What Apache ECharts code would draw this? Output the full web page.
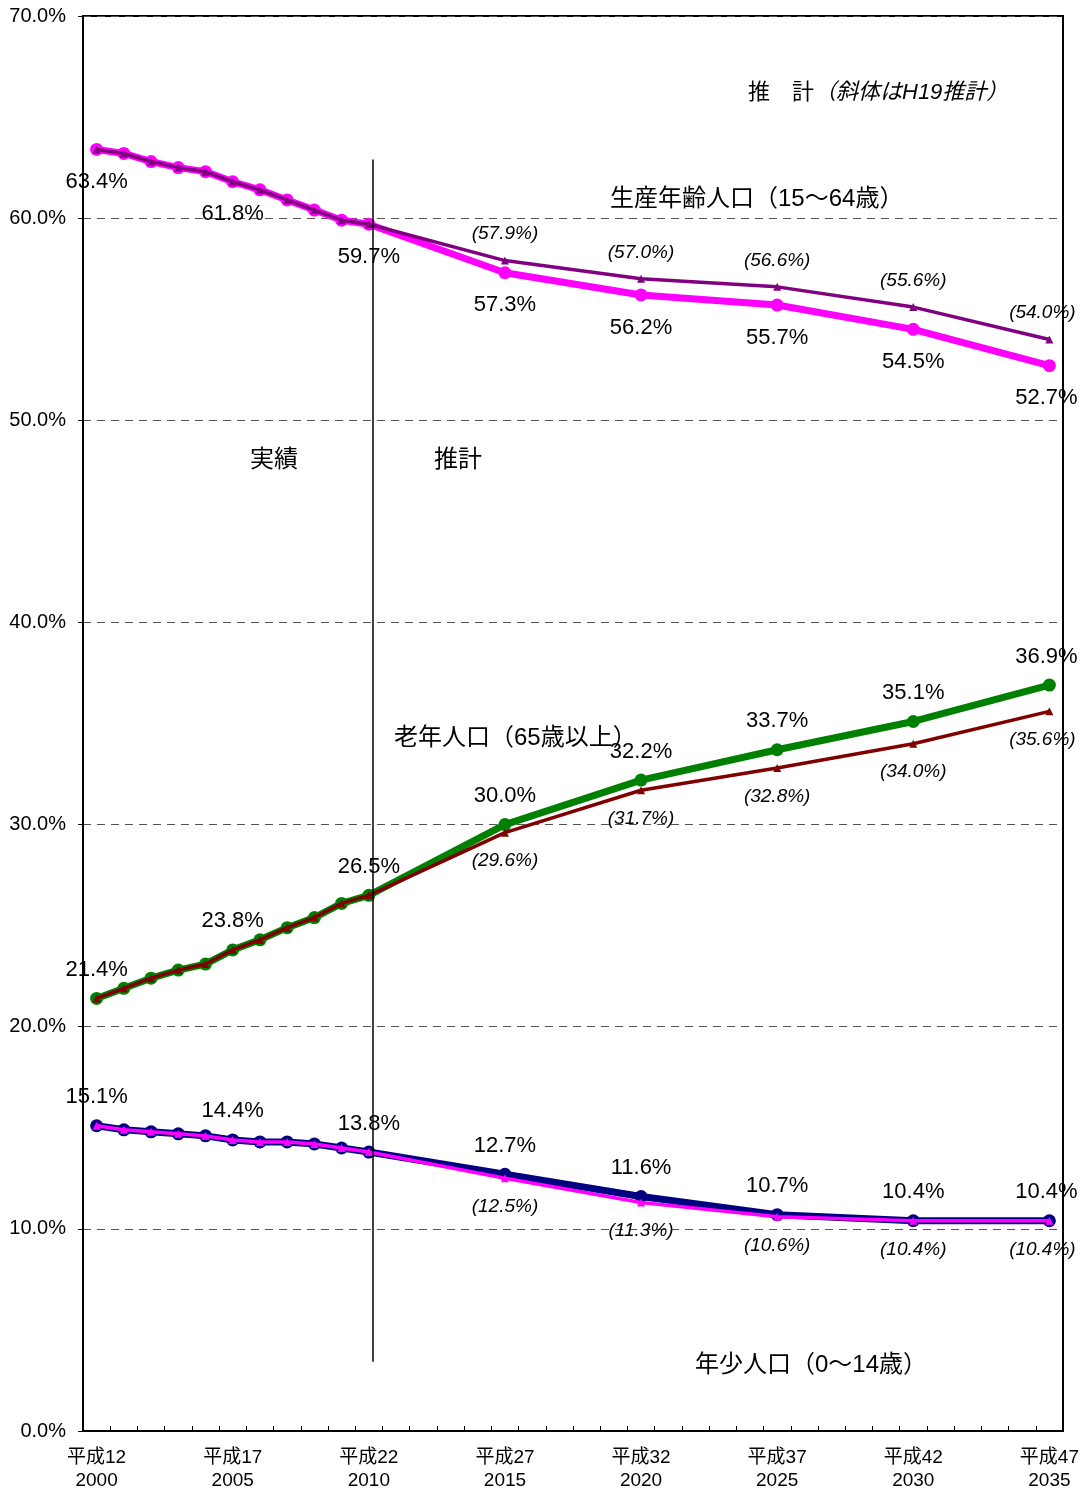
<!DOCTYPE html>
<html>
<head>
<meta charset="utf-8">
<style>
html,body{margin:0;padding:0;background:#fff;}
#chart{width:1090px;height:1492px;}
</style>
<script src="https://cdn.jsdelivr.net/npm/echarts@6/dist/echarts.min.js"></script>
</head>
<body>
<div id="chart"></div>
<script>
// ---- data ----
const years = [2000,2001,2002,2003,2004,2005,2006,2007,2008,2009,2010,2015,2020,2025,2030,2035];
const workingActual = [63.4,63.2,62.8,62.5,62.3,61.8,61.4,60.9,60.4,59.9,59.7,57.3,56.2,55.7,54.5,52.7];
const workingH19    = [63.4,63.2,62.8,62.5,62.3,61.8,61.4,60.9,60.4,59.9,59.7,57.9,57.0,56.6,55.6,54.0];
const elderlyActual = [21.4,21.9,22.4,22.8,23.1,23.8,24.3,24.9,25.4,26.1,26.5,30.0,32.2,33.7,35.1,36.9];
const elderlyH19    = [21.4,21.9,22.4,22.8,23.1,23.8,24.3,24.9,25.4,26.1,26.5,29.6,31.7,32.8,34.0,35.6];
const childActual   = [15.1,14.9,14.8,14.7,14.6,14.4,14.3,14.3,14.2,14.0,13.8,12.7,11.6,10.7,10.4,10.4];
const childH19      = [15.1,14.9,14.8,14.7,14.6,14.4,14.3,14.3,14.2,14.0,13.8,12.5,11.3,10.6,10.4,10.4];
const labelYears = [2000,2005,2010,2015,2020,2025,2030,2035];
const h19LabelYears = [2015,2020,2025,2030,2035];
const tickYears = [2000.5,2001.5,2002.5,2003.5,2004.5,2005.5,2006.5,2007.5,2008.5,2009.5,2010.5,2011.5,2012.5,2013.5,2014.5,2015.5,2016.5,2017.5,2018.5,2019.5,2020.5,2021.5,2022.5,2023.5,2024.5,2025.5,2026.5,2027.5,2028.5,2029.5,2030.5,2031.5,2032.5,2033.5,2034.5];
const divider = {x: 2010.14, yTop: 62.9, yBottom: 3.43};

const FONT = "'Liberation Sans', Arial, 'Noto Sans CJK JP', sans-serif";
const CJK = "'Liberation Sans', 'Noto Sans CJK JP', sans-serif";

function buildData(vals, showYears, lastOffset) {
  return years.map((y, i) => {
    const item = {value: [y, vals[i]]};
    if (showYears.indexOf(y) >= 0) {
      item.label = {show: true};
      if (y === 2035) item.label.offset = [lastOffset, 0];
    }
    return item;
  });
}

function thickSeries(name, vals, color, pos) {
  return {
    name: name, type: 'line', z: 2,
    data: buildData(vals, labelYears, -3),
    symbol: 'circle', symbolSize: 13,
    itemStyle: {color: color},
    lineStyle: {color: color, width: 7},
    label: {
      show: false, position: pos, distance: pos === 'bottom' ? 15 : 11,
      fontSize: 22, fontFamily: FONT, color: '#000',
      formatter: p => p.value[1].toFixed(1) + '%'
    },
    animation: false
  };
}
function h19Series(name, vals, color, pos) {
  return {
    name: name, type: 'line', z: 3,
    data: buildData(vals, h19LabelYears, -7),
    symbol: 'triangle', symbolSize: 8,
    itemStyle: {color: color},
    lineStyle: {color: color, width: 3.5},
    label: {
      show: false, position: pos, distance: pos === 'bottom' ? 15 : 13,
      fontSize: 19, fontStyle: 'italic', fontFamily: FONT, color: '#000',
      formatter: p => '(' + p.value[1].toFixed(1) + '%)'
    },
    animation: false
  };
}

const series = [
  thickSeries('生産年齢人口', workingActual, '#FF00FF', 'bottom'),
  thickSeries('老年人口', elderlyActual, '#008000', 'top'),
  thickSeries('年少人口', childActual, '#000080', 'top'),
  h19Series('生産年齢人口H19', workingH19, '#800080', 'top'),
  h19Series('老年人口H19', elderlyH19, '#800000', 'bottom'),
  h19Series('年少人口H19', childH19, '#FF00FF', 'bottom')
];
series[0].markLine = {
  silent: true, symbol: 'none',
  lineStyle: {color: '#000', width: 1.5, type: 'solid'},
  label: {show: false},
  data: [[{coord: [divider.x, divider.yTop]}, {coord: [divider.x, divider.yBottom]}]]
};

const chart = echarts.init(document.getElementById('chart'));
chart.setOption({
  backgroundColor: '#fff',
  animation: false,
  grid: {left: 83, right: 27, top: 16, bottom: 60, show: true, borderColor: '#000', borderWidth: 2, containLabel: false},
  xAxis: {
    type: 'value', min: 1999.5, max: 2035.5,
    axisLine: {show: true, lineStyle: {color: '#000', width: 2}},
    axisTick: {show: true, inside: true, length: 5, customValues: tickYears, lineStyle: {color: '#000', width: 1}},
    axisLabel: {
      customValues: labelYears, margin: 15, fontSize: 19, lineHeight: 23, fontFamily: CJK, color: '#000',
      formatter: v => '平成' + (v - 1988) + '\n' + v
    },
    splitLine: {show: false}
  },
  yAxis: {
    type: 'value', min: 0, max: 70, interval: 10,
    axisLine: {show: true, lineStyle: {color: '#000', width: 2}},
    axisTick: {show: true, inside: false, length: 5, lineStyle: {color: '#000'}},
    axisLabel: {fontSize: 20, fontFamily: FONT, color: '#000', margin: 17, formatter: v => v.toFixed(1) + '%'},
    splitLine: {show: true, lineStyle: {color: '#555', type: [8, 6], width: 1}}
  },
  series: series,
  graphic: [
    {type: 'text', x: 748, y: 93, z: 10, style: {
      text: '{a|推　計}{b|（斜体はH19推計）}', verticalAlign: 'middle', fill: '#000',
      rich: {a: {fontSize: 22, fontFamily: CJK, fill: '#000'}, b: {fontSize: 22, fontFamily: CJK, fontStyle: 'italic', fill: '#000'}}
    }},
    {type: 'text', x: 610, y: 199, z: 10, style: {text: '生産年齢人口（15～64歳）', fontSize: 24, fontFamily: CJK, fill: '#000', verticalAlign: 'middle'}},
    {type: 'text', x: 250, y: 460, z: 10, style: {text: '実績', fontSize: 24, fontFamily: CJK, fill: '#000', verticalAlign: 'middle'}},
    {type: 'text', x: 434, y: 460, z: 10, style: {text: '推計', fontSize: 24, fontFamily: CJK, fill: '#000', verticalAlign: 'middle'}},
    {type: 'text', x: 394, y: 738, z: 10, style: {text: '老年人口（65歳以上）', fontSize: 24, fontFamily: CJK, fill: '#000', verticalAlign: 'middle'}},
    {type: 'text', x: 695, y: 1365, z: 10, style: {text: '年少人口（0～14歳）', fontSize: 24, fontFamily: CJK, fill: '#000', verticalAlign: 'middle'}}
  ]
});
</script>
</body>
</html>
